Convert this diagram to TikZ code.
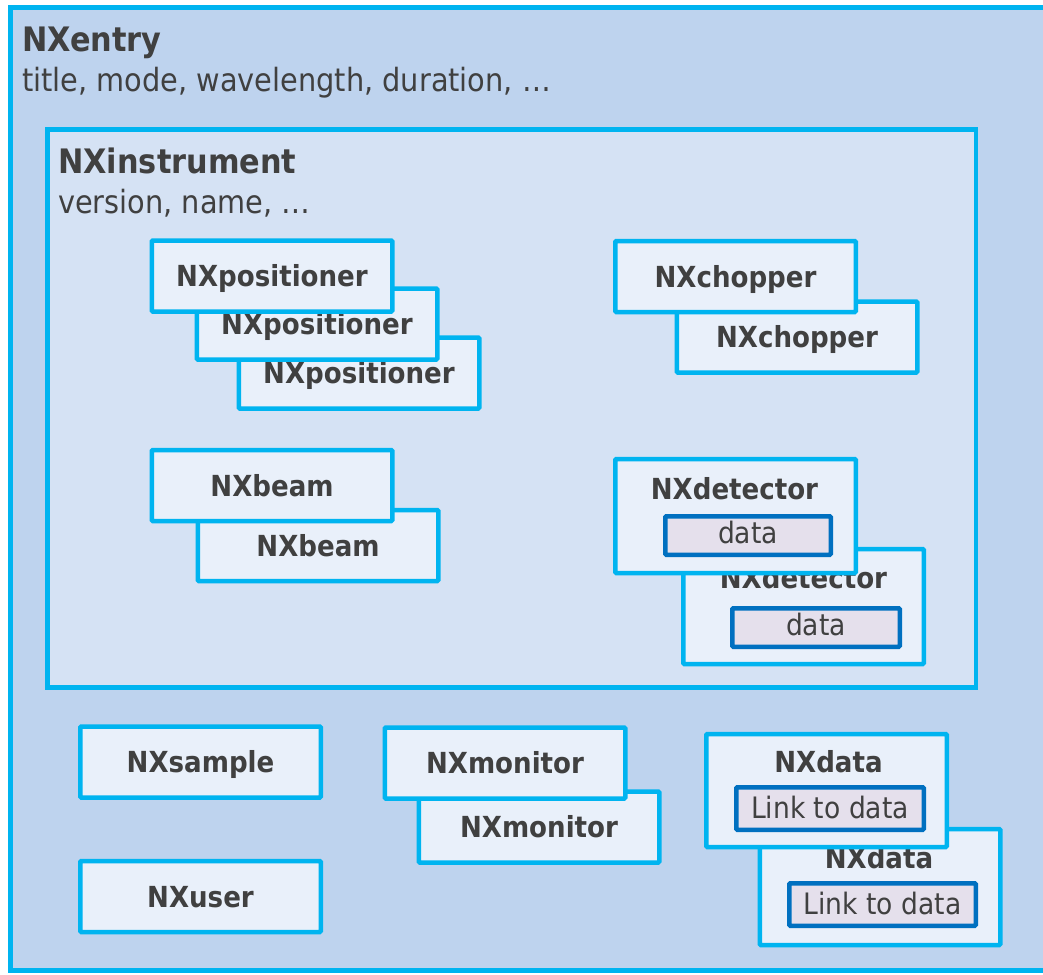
\documentclass[tikz,border=0pt]{standalone}
\usepackage{fontspec}
\setmainfont{DejaVu Sans Condensed}
\definecolor{cyanb}{HTML}{00B4F0}
\definecolor{entryfill}{HTML}{BED3EE}
\definecolor{instfill}{HTML}{D5E2F4}
\definecolor{boxfill}{HTML}{E9F0FA}
\definecolor{datafill}{HTML}{E5E0EC}
\definecolor{databorder}{HTML}{0070C0}
\definecolor{txt}{HTML}{404040}
\tikzset{
  grp/.style={draw=cyanb, line width=5pt},
  nxbox/.style={draw=cyanb, line width=4.5pt, fill=boxfill, rounded corners=1pt,
    minimum width=240.5pt, minimum height=71pt, inner sep=0pt,
    text height=21pt, text depth=0pt,
    font=\fontsize{29}{30}\selectfont\bfseries, text=txt},
  nxtall/.style={nxbox, minimum height=#1},
  ttl/.style={font=\fontsize{29}{30}\selectfont\bfseries, text=txt, inner sep=0pt, anchor=base},
  datab/.style={draw=databorder, line width=4.5pt, fill=datafill, rounded corners=1pt,
    inner sep=0pt, text depth=0pt, font=\fontsize{29.5}{30}\selectfont, text=txt},
  bigttl/.style={font=\fontsize{33.7}{36}\selectfont\bfseries, text=txt, inner sep=0pt, anchor=base west},
  attr/.style={font=\fontsize{32}{34}\selectfont, text=txt, inner sep=0pt, anchor=base west},
}
\begin{document}
\begin{tikzpicture}[x=1pt, y=-1pt]
\useasboundingbox (0,0) rectangle (1043,974);
\clip (0,0) rectangle (1043,974);
% outer NXentry
\path[grp, fill=entryfill] (10.5,7.5) rectangle (1060,970.5);
\node[bigttl] (entry) at (22,52) {NXentry};
\node[attr] (entryattr) at (22,91) {title, mode, wavelength, duration, …};
% NXinstrument
\path[grp, line width=4.5pt, fill=instfill] (47.5,129.5) rectangle (976,687.5);
\node[bigttl] (inst) at (58,173) {NXinstrument};
\node[attr] (instattr) at (58,213) {version, name, …};
% positioners
\node[nxbox] (p3) at (359,373) {NXpositioner};
\node[nxbox] (p2) at (317,324) {NXpositioner};
\node[nxbox] (p1) at (272,276) {NXpositioner};
% choppers
\node[nxbox] (c2) at (797,337) {NXchopper};
\node[nxbox] (c1) at (735.5,276.5) {NXchopper};
% beams
\node[nxbox] (b2) at (318,545.5) {NXbeam};
\node[nxbox] (b1) at (272,485.5) {NXbeam};
% detectors
\node[nxtall=115pt] (d2) at (803.5,606.5) {};
\node[ttl] (d2t) at (803.5,588) {NXdetector};
\node[datab, minimum width=167.5pt, minimum height=38.5pt, text height=15pt] (d2d) at (816,627.5) {data};
\node[nxtall=114pt] (d1) at (735.5,516) {};
\node[ttl] (d1t) at (734.5,499) {NXdetector};
\node[datab, minimum width=165.5pt, minimum height=38.5pt, text height=15pt] (d1d) at (748,535.5) {data};
% bottom row
\node[nxbox] (sample) at (200.5,762) {NXsample};
\node[nxbox] (user) at (200.5,896.5) {NXuser};
\node[nxbox] (m2) at (539,827) {NXmonitor};
\node[nxbox] (m1) at (505,763) {NXmonitor};
% NXdata
\node[nxtall=116pt] (n2) at (880,887) {};
\node[ttl] (n2t) at (879,868) {NXdata};
\node[datab, minimum width=186.5pt, minimum height=42.5pt, text height=19pt] (n2l) at (882.5,904.5) {Link to data};
\node[nxtall=113pt] (n1) at (826.5,790.5) {};
\node[ttl] (n1t) at (828.5,772) {NXdata};
\node[datab, minimum width=187.5pt, minimum height=42.5pt, text height=19pt] (n1l) at (830,808.5) {Link to data};
\end{tikzpicture}
\end{document}
